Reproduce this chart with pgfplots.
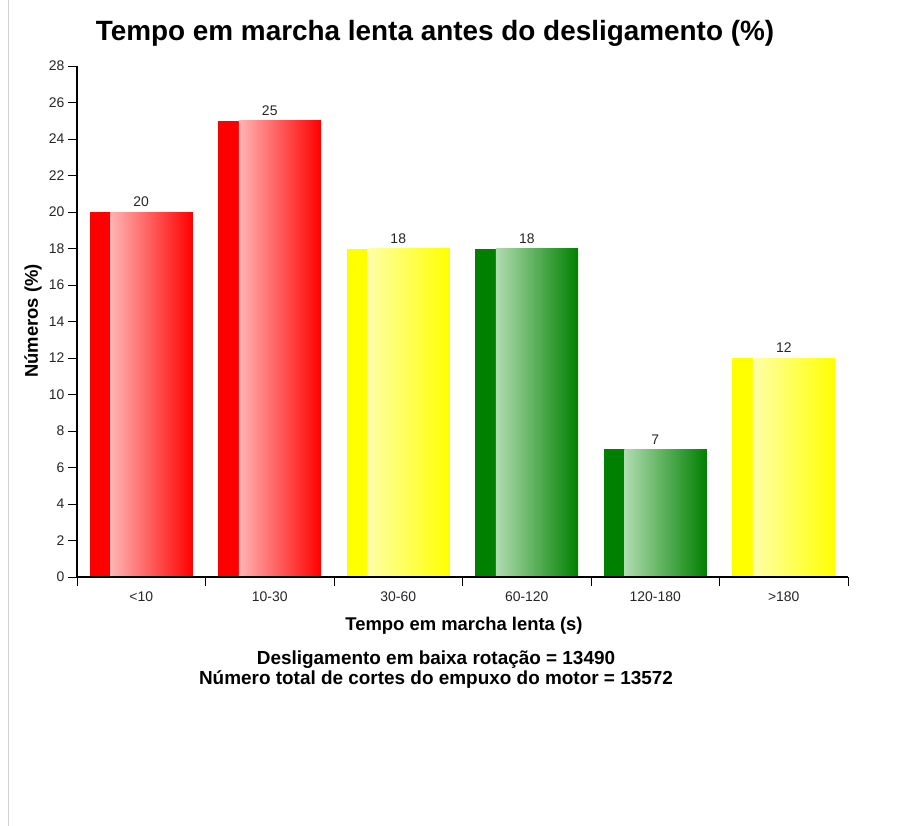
\documentclass[border=0pt]{standalone}
\usepackage{fontspec}
\setmainfont{Liberation Sans}
\usepackage{pgfplots}
\pgfplotsset{compat=1.18}
\definecolor{cred}{HTML}{FF0000}
\definecolor{cyel}{HTML}{FFFF00}
\definecolor{cgrn}{HTML}{008000}
\definecolor{lred}{HTML}{FFB4B4}
\definecolor{lyel}{HTML}{FFFFA8}
\definecolor{lgrn}{HTML}{B0DCB0}

\begin{document}
\begin{tikzpicture}[x=1bp,y=1bp]
\useasboundingbox (0,0) rectangle (909,-826);
\draw[black!18] (8,0) -- (8,-826);
\begin{axis}[
  at={(77bp,-577bp)}, anchor=south west,
  scale only axis, width=771bp, height=511bp,
  xmin=-0.5, xmax=5.5, ymin=0, ymax=28,
  axis x line*=bottom, axis y line*=left,
  axis line style={line width=1.1pt},
  axis on top,
  ytick={0,2,...,28},
  xtick={-0.5,0.5,...,5.5}, xticklabels={},
  extra x ticks={0,1,2,3,4,5},
  extra x tick labels={<10,10-30,30-60,60-120,120-180,>180},
  extra x tick style={major tick length=0pt, tick label style={yshift=-11bp}},
  tick align=outside, major tick length=9bp,
  tick style={black, line width=0.8pt},
  tick label style={font=\fontsize{14}{16}\selectfont, text=black!85},
  /pgf/number format/assume math mode=true,
  nodes near coords style={font=\fontsize{14}{16}\selectfont, text=black!85, anchor=south, inner sep=5bp},
  clip=false,
]
% base bars
\addplot[ybar, bar width=0.8, bar shift=0, fill=cred, draw=none, nodes near coords] coordinates {(0,20)};
\addplot[ybar, bar width=0.8, bar shift=0, fill=cred, draw=none, nodes near coords] coordinates {(1,25)};
\addplot[ybar, bar width=0.8, bar shift=0, fill=cyel, draw=none, nodes near coords] coordinates {(2,18)};
\addplot[ybar, bar width=0.8, bar shift=0, fill=cgrn, draw=none, nodes near coords] coordinates {(3,18)};
\addplot[ybar, bar width=0.8, bar shift=0, fill=cgrn, draw=none, nodes near coords] coordinates {(4,7)};
\addplot[ybar, bar width=0.8, bar shift=0, fill=cyel, draw=none, nodes near coords] coordinates {(5,12)};
% gradient overlays
\addplot[ybar, bar width=0.64, bar shift=0.08, draw=none, left color=lred, right color=cred] coordinates {(0,20)};
\addplot[ybar, bar width=0.64, bar shift=0.08, draw=none, left color=lred, right color=cred] coordinates {(1,25)};
\addplot[ybar, bar width=0.64, bar shift=0.08, draw=none, left color=lyel, right color=cyel] coordinates {(2,18)};
\addplot[ybar, bar width=0.64, bar shift=0.08, draw=none, left color=lgrn, right color=cgrn] coordinates {(3,18)};
\addplot[ybar, bar width=0.64, bar shift=0.08, draw=none, left color=lgrn, right color=cgrn] coordinates {(4,7)};
\addplot[ybar, bar width=0.64, bar shift=0.08, draw=none, left color=lyel, right color=cyel] coordinates {(5,12)};
\end{axis}
\node[font=\fontsize{28}{32}\selectfont\bfseries] at (435,-33) {Tempo em marcha lenta antes do desligamento (\%)};
\node[font=\fontsize{18.5}{21}\selectfont\bfseries, rotate=90] at (33,-321) {Números (\%)};
\node[font=\fontsize{18.5}{21}\selectfont\bfseries] at (464,-626) {Tempo em marcha lenta (s)};
\node[font=\fontsize{19}{21}\selectfont\bfseries] at (436,-660) {Desligamento em baixa rotação = 13490};
\node[font=\fontsize{19}{21}\selectfont\bfseries] at (436,-680) {Número total de cortes do empuxo do motor = 13572};
\end{tikzpicture}
\end{document}
